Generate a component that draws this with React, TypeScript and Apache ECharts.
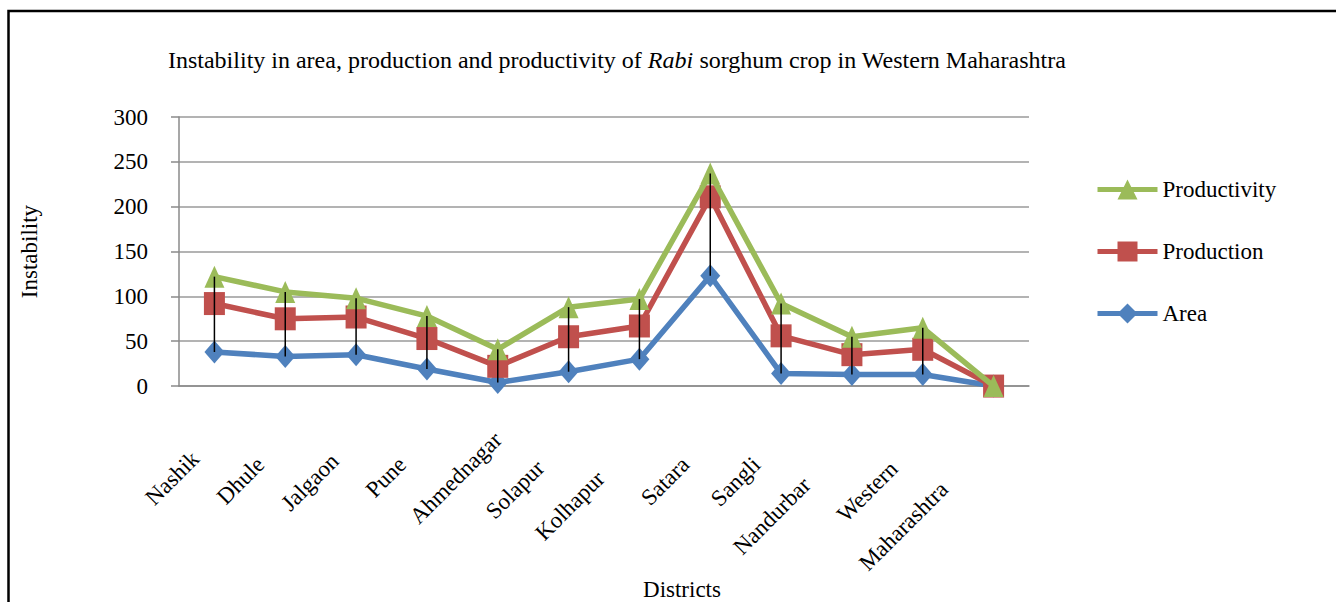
import React, { useEffect, useRef } from 'react';
import * as echarts from 'echarts';

const categories = ['Nashik', 'Dhule', 'Jalgaon', 'Pune', 'Ahmednagar', 'Solapur', 'Kolhapur', 'Satara', 'Sangli', 'Nandurbar', 'Western', 'Maharashtra'];
const area = [38, 33, 35, 19, 4, 16, 30, 123, 14, 13, 13, 0];
const production = [92, 75, 77, 53, 22, 55, 67, 211, 56, 35, 41, 0];
const productivity = [122, 105, 98, 78, 41, 88, 97, 237, 92, 55, 65, 0];
const yMin = 0;
const yMax = 300;
const yStep = 50;

// layout-only: per-label shifts (right padding / vertical shift in the rotated frame)
const labelPadRight = [27, 35, 30, 35, 0, 40, 55, 35, 35, 64, 41, 70];
const labelShift = [-26, -4, -3, 1, 0, -7, -3, 4, 4, 1, 3, -4];

const FONT = "'Liberation Serif', 'Times New Roman', serif";
const FS = 23;
const BLUE = '#4F81BD';
const RED = '#C0504D';
const GREEN = '#9BBB59';

export default function App() {
  const ref = useRef<HTMLDivElement>(null);
  useEffect(() => {
    if (!ref.current) return;
    const chart = echarts.init(ref.current, null, { renderer: 'svg' });
    const xData = categories.map((c, i) => {
      const s = labelShift[i];
      return {
        value: c,
        textStyle: {
          padding: [s > 0 ? s : 0, labelPadRight[i], s < 0 ? -s : 0, 0],
        },
      };
    });
    const hiLo = categories.map((_, i) => [
      i,
      Math.min(area[i], production[i], productivity[i]),
      Math.max(area[i], production[i], productivity[i]),
    ]);
    chart.setOption({
      animation: false,
      backgroundColor: '#fff',
      graphic: [
        {
          type: 'rect',
          shape: { x: 8.5, y: 11, width: 1400, height: 700 },
          style: { fill: 'none', stroke: '#000', lineWidth: 2.5 },
          z: 100,
        },
        {
          type: 'text',
          x: 617,
          y: 60,
          style: {
            text: 'Instability in area, production and productivity of {i|Rabi} sorghum crop in Western Maharashtra',
            align: 'center',
            verticalAlign: 'middle',
            fontFamily: FONT,
            fontSize: 24,
            fill: '#000',
            rich: {
              i: { fontStyle: 'italic', fontFamily: FONT, fontSize: 24, fill: '#000' },
            },
          },
        },
      ],
      legend: {
        orient: 'vertical',
        left: 1090,
        top: 173,
        itemWidth: 60,
        itemHeight: 25,
        itemGap: 39,
        data: ['Productivity', 'Production', 'Area'],
        lineStyle: { width: 5 },
        textStyle: { fontFamily: FONT, fontSize: FS, color: '#000' },
      },
      grid: { left: 179, right: 307, top: 117, bottom: 215 },
      xAxis: {
        type: 'category',
        data: xData,
        boundaryGap: true,
        axisLine: { show: true, lineStyle: { color: '#8a8a8a', width: 1.5 } },
        axisTick: { show: false },
        axisLabel: {
          interval: 0,
          rotate: 45,
          margin: 50,
          fontFamily: FONT,
          fontSize: FS,
          color: '#000',
        },
        name: 'Districts',
        nameLocation: 'middle',
        nameGap: 187,
        nameTextStyle: { fontFamily: FONT, fontSize: FS, color: '#000', padding: [0, 0, 0, 156] },
      },
      yAxis: {
        type: 'value',
        min: yMin,
        max: yMax,
        interval: yStep,
        axisLine: { show: true, lineStyle: { color: '#8a8a8a', width: 1.5 } },
        axisTick: { show: true, inside: false, length: 8, lineStyle: { color: '#8a8a8a', width: 1.5 } },
        splitLine: { show: true, lineStyle: { color: '#9a9a9a', width: 1.5 } },
        axisLabel: { margin: 31, fontFamily: FONT, fontSize: FS, color: '#000' },
        name: 'Instability',
        nameLocation: 'middle',
        nameGap: 138,
        nameRotate: 90,
        nameTextStyle: { fontFamily: FONT, fontSize: FS, color: '#000' },
      },
      series: [
        {
          name: 'Area',
          type: 'line',
          data: area,
          symbol: 'diamond',
          symbolSize: [20, 23],
          lineStyle: { color: BLUE, width: 5.5 },
          itemStyle: { color: BLUE },
          z: 2,
        },
        {
          name: 'Production',
          type: 'line',
          data: production,
          symbol: 'rect',
          symbolSize: [21, 23],
          lineStyle: { color: RED, width: 5.5 },
          itemStyle: { color: RED },
          z: 3,
        },
        {
          name: 'Productivity',
          type: 'line',
          data: productivity,
          symbol: 'triangle',
          symbolSize: [20, 22],
          lineStyle: { color: GREEN, width: 5.5 },
          itemStyle: { color: GREEN },
          z: 4,
        },
        {
          name: 'hilo',
          type: 'custom',
          silent: true,
          z: 10,
          data: hiLo,
          encode: { x: 0, y: [1, 2] },
          renderItem: (params: any, api: any) => {
            const i = api.value(0);
            const lo = api.coord([i, api.value(1)]);
            const hi = api.coord([i, api.value(2)]);
            return {
              type: 'line',
              shape: { x1: lo[0], y1: lo[1], x2: hi[0], y2: hi[1] },
              style: { stroke: '#000', lineWidth: 1.5 },
            };
          },
        },
      ],
    });
    return () => chart.dispose();
  }, []);
  return (
    <div
      ref={ref}
      style={{ position: 'absolute', left: 0, top: 0, width: 1336, height: 602, background: '#fff' }}
    />
  );
}
